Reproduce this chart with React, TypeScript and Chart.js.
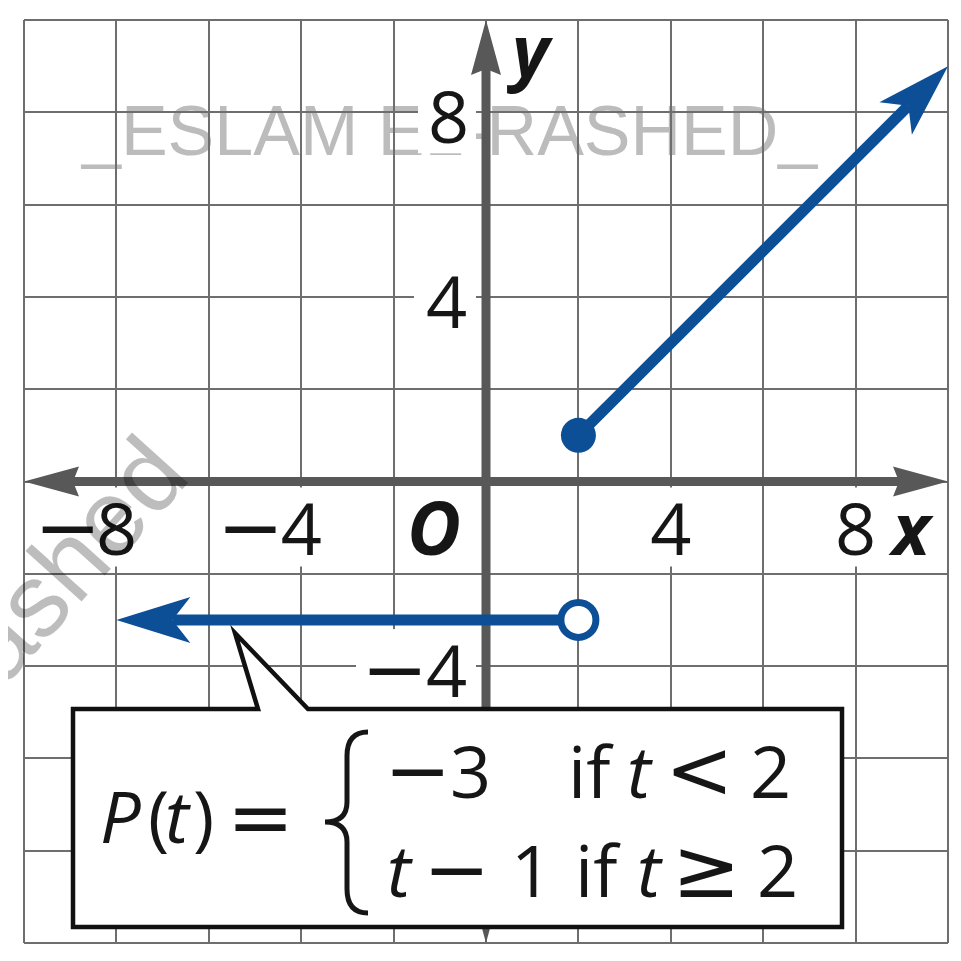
import React, { useEffect, useRef } from 'react';
import { Chart, registerables } from 'chart.js';

Chart.register(...registerables);

// ---------------- data ----------------
const xRange = [-10, 10];
const yRange = [-10, 10];
const gridStep = 2;
const xTickLabels = [-8, -4, 4, 8];
const yTickLabels = [8, 4, -4];
const rayUpT = [2, 10];
const rayUpP = [1, 9];
const rayDownT = [2, -8];
const rayDownP = [-3, -3];
const watermarkTop = '_ESLAM EL-RASHED_';
const watermarkSide = 'rashed';

// ---------------- style ----------------
const BLUE = '#0c4f97';
const AXIS = '#585858';
const GRID = '#6e6e6e';
const INK = '#161616';
const SANS = '"Open Sans", "Noto Sans", sans-serif';
const MATH = '"DejaVu Sans", sans-serif';
const DIGIT_FONT = `72px ${SANS}`;
const ITALIC_FONT = `italic 72px ${SANS}`;
const MINUS_FONT = `80px ${MATH}`;
const REL_FONT = `82px ${MATH}`;
const LETTER_FONT = `bold italic 72px ${SANS}`;

type Pt = { x: number; y: number };

function measure(ctx: CanvasRenderingContext2D, text: string, font: string) {
  ctx.font = font;
  const m = ctx.measureText(text);
  return {
    abl: m.actualBoundingBoxLeft,
    w: m.actualBoundingBoxLeft + m.actualBoundingBoxRight,
    asc: m.actualBoundingBoxAscent,
    desc: m.actualBoundingBoxDescent,
  };
}

// draws text so that its glyph box starts at `left`
function glyph(ctx: CanvasRenderingContext2D, text: string, font: string, left: number, baseline: number, color = INK) {
  const m = measure(ctx, text, font);
  ctx.font = font;
  ctx.fillStyle = color;
  ctx.textAlign = 'left';
  ctx.textBaseline = 'alphabetic';
  ctx.fillText(text, left + m.abl, baseline);
  return { left, right: left + m.w, top: baseline - m.asc, bottom: baseline + m.desc };
}

function arrowPath(ctx: CanvasRenderingContext2D, tip: Pt, ux: number, uy: number, len: number, half: number, notch: number) {
  const nx = -uy;
  const ny = ux;
  ctx.beginPath();
  ctx.moveTo(tip.x, tip.y);
  ctx.lineTo(tip.x - ux * len + nx * half, tip.y - uy * len + ny * half);
  ctx.lineTo(tip.x - ux * notch, tip.y - uy * notch);
  ctx.lineTo(tip.x - ux * len - nx * half, tip.y - uy * len - ny * half);
  ctx.closePath();
}

const RAY_ARROW = { len: 74, half: 23, notch: 56 };
const AXIS_ARROW = { len: 55, half: 15, notch: 49 };

function rayDirection(meta: any) {
  const pts = meta.data;
  const tip = pts[pts.length - 1];
  const prev = pts[pts.length - 2];
  let ux = tip.x - prev.x;
  let uy = tip.y - prev.y;
  const l = Math.hypot(ux, uy) || 1;
  ux /= l;
  uy /= l;
  return { tip: { x: tip.x, y: tip.y }, ux, uy };
}

const graphPlugin = {
  id: 'graphPaper',
  beforeDraw(chart: any) {
    const { ctx, chartArea: ca } = chart;
    ctx.save();
    ctx.font = `70px "Liberation Sans", Arial, sans-serif`;
    ctx.fillStyle = '#bcbcbc';
    ctx.textAlign = 'left';
    ctx.textBaseline = 'alphabetic';
    ctx.fillText(watermarkTop, ca.left + 58, ca.top + 135);
    ctx.restore();
  },
  beforeDatasetsDraw(chart: any) {
    const { ctx } = chart;
    const xs = chart.scales.x;
    const ys = chart.scales.y;
    const x0 = xs.getPixelForValue(0);
    const y0 = ys.getPixelForValue(0);
    ctx.save();

    // ---- tick label layout ----
    type Item = { minus: boolean; mLeft: number; dLeft: number; base: number; text: string; bx: number; by: number; bw: number; bh: number };
    const items: Item[] = [];
    for (const v of xTickLabels) {
      const px = xs.getPixelForValue(v);
      const text = String(Math.abs(v));
      const d = measure(ctx, text, DIGIT_FONT);
      const dLeft = px - d.w / 2;
      let left = dLeft;
      let mLeft = 0;
      if (v < 0) {
        const m = measure(ctx, '\u2212', MINUS_FONT);
        mLeft = dLeft - 6 - m.w;
        left = mLeft;
      }
      const base = y0 + 73;
      items.push({ minus: v < 0, mLeft, dLeft, base, text, bx: left - 8, by: y0 + 6, bw: dLeft + d.w + 8 - (left - 8), bh: 79 });
    }
    for (const v of yTickLabels) {
      const py = ys.getPixelForValue(v);
      const text = String(Math.abs(v));
      const d = measure(ctx, text, DIGIT_FONT);
      const dLeft = x0 - 20 - d.w;
      let left = dLeft;
      let mLeft = 0;
      if (v < 0) {
        const m = measure(ctx, '\u2212', MINUS_FONT);
        mLeft = dLeft - 7 - m.w;
        left = mLeft;
      }
      const base = py + 31;
      const top = base - d.asc;
      items.push({ minus: v < 0, mLeft, dLeft, base, text, bx: left - 13, by: top - 16, bw: x0 - 10 - (left - 13), bh: d.asc + 26 });
    }

    // backdrops cut the grid lines
    ctx.fillStyle = '#ffffff';
    for (const it of items) ctx.fillRect(it.bx, it.by, it.bw, it.bh);

    // ---- axes ----
    const left = xs.getPixelForValue(xRange[0]);
    const right = xs.getPixelForValue(xRange[1]);
    const top = ys.getPixelForValue(yRange[1]);
    const bottom = ys.getPixelForValue(yRange[0]);
    ctx.strokeStyle = AXIS;
    ctx.fillStyle = AXIS;
    ctx.lineWidth = 9;
    ctx.lineCap = 'butt';
    ctx.beginPath();
    ctx.moveTo(left + AXIS_ARROW.notch, y0);
    ctx.lineTo(right - AXIS_ARROW.notch, y0);
    ctx.moveTo(x0, top + AXIS_ARROW.notch);
    ctx.lineTo(x0, bottom - AXIS_ARROW.notch);
    ctx.stroke();
    const heads: [Pt, number, number][] = [
      [{ x: left, y: y0 }, -1, 0],
      [{ x: right, y: y0 }, 1, 0],
      [{ x: x0, y: top }, 0, -1],
      [{ x: x0, y: bottom }, 0, 1],
    ];
    for (const [p, ux, uy] of heads) {
      arrowPath(ctx, p, ux, uy, AXIS_ARROW.len, AXIS_ARROW.half, AXIS_ARROW.notch);
      ctx.fill();
    }

    // ---- tick labels ----
    for (const it of items) {
      if (it.minus) glyph(ctx, '\u2212', MINUS_FONT, it.mLeft, it.base);
      glyph(ctx, it.text, DIGIT_FONT, it.dLeft, it.base);
    }
    // origin and axis names
    glyph(ctx, 'O', `bold italic 74px ${SANS}`, x0 - 75, y0 + 73);
    glyph(ctx, 'x', LETTER_FONT, right - 60, y0 + 73);
    glyph(ctx, 'y', LETTER_FONT, x0 + 21, top + 57);
    ctx.restore();
  },
  beforeDatasetDraw(chart: any, args: any) {
    const ds = chart.data.datasets[args.index];
    if (!ds.arrow) return;
    const { ctx } = chart;
    const { tip, ux, uy } = rayDirection(args.meta);
    const cx = tip.x - ux * RAY_ARROW.notch;
    const cy = tip.y - uy * RAY_ARROW.notch;
    const nx = -uy;
    const ny = ux;
    const B = 4000;
    ctx.save();
    ctx.beginPath();
    ctx.moveTo(cx + nx * B, cy + ny * B);
    ctx.lineTo(cx + nx * B - ux * B, cy + ny * B - uy * B);
    ctx.lineTo(cx - nx * B - ux * B, cy - ny * B - uy * B);
    ctx.lineTo(cx - nx * B, cy - ny * B);
    ctx.closePath();
    ctx.clip();
  },
  afterDatasetDraw(chart: any, args: any) {
    const ds = chart.data.datasets[args.index];
    if (!ds.arrow) return;
    const { ctx } = chart;
    ctx.restore();
    const { tip, ux, uy } = rayDirection(args.meta);
    ctx.save();
    ctx.fillStyle = ds.borderColor;
    arrowPath(ctx, tip, ux, uy, RAY_ARROW.len, RAY_ARROW.half, RAY_ARROW.notch);
    ctx.fill();
    ctx.restore();
  },
  afterDraw(chart: any) {
    const { ctx, chartArea: ca } = chart;
    ctx.save();
    // ---- callout box ----
    const bx = ca.left + 49;
    const by = ca.top + 689;
    const br = ca.left + 818;
    const bb = ca.top + 907;
    ctx.beginPath();
    ctx.moveTo(bx, by);
    ctx.lineTo(ca.left + 234, by);
    ctx.lineTo(ca.left + 211, ca.top + 613);
    ctx.lineTo(ca.left + 284, by);
    ctx.lineTo(br, by);
    ctx.lineTo(br, bb);
    ctx.lineTo(bx, bb);
    ctx.closePath();
    ctx.fillStyle = '#ffffff';
    ctx.fill();
    ctx.lineWidth = 4.5;
    ctx.lineJoin = 'miter';
    ctx.strokeStyle = '#111111';
    ctx.stroke();

    // ---- formula ----
    const r0 = by + 134;
    glyph(ctx, 'P', ITALIC_FONT, bx + 30, r0);
    glyph(ctx, '(', DIGIT_FONT, bx + 77, r0);
    glyph(ctx, 't', ITALIC_FONT, bx + 95, r0);
    glyph(ctx, ')', DIGIT_FONT, bx + 122, r0);
    glyph(ctx, '=', MINUS_FONT, bx + 162, r0 + 2);

    // brace
    const L = bx + 252;
    const S = bx + 274;
    const R = bx + 295;
    const T = by + 23;
    const M = by + 113;
    const B = by + 204;
    ctx.beginPath();
    ctx.moveTo(R, T);
    ctx.quadraticCurveTo(S, T, S, T + 24);
    ctx.lineTo(S, M - 20);
    ctx.quadraticCurveTo(S, M, L, M);
    ctx.quadraticCurveTo(S, M, S, M + 20);
    ctx.lineTo(S, B - 24);
    ctx.quadraticCurveTo(S, B, R, B);
    ctx.lineWidth = 5;
    ctx.strokeStyle = INK;
    ctx.stroke();

    const r1 = by + 89;
    glyph(ctx, '\u2212', MINUS_FONT, bx + 319, r1);
    glyph(ctx, '3', DIGIT_FONT, bx + 380, r1);
    glyph(ctx, 'if', DIGIT_FONT, bx + 500, r1);
    glyph(ctx, 't', ITALIC_FONT, bx + 557, r1);
    glyph(ctx, '<', REL_FONT, bx + 600, r1);
    glyph(ctx, '2', DIGIT_FONT, bx + 680, r1);

    const r2 = by + 188;
    glyph(ctx, 't', ITALIC_FONT, bx + 317, r2);
    glyph(ctx, '\u2212', MINUS_FONT, bx + 358, r2);
    glyph(ctx, '1', DIGIT_FONT, bx + 444, r2);
    glyph(ctx, 'if', DIGIT_FONT, bx + 507, r2);
    glyph(ctx, 't', ITALIC_FONT, bx + 567, r2);
    glyph(ctx, '\u2265', REL_FONT, bx + 607, r2);
    glyph(ctx, '2', DIGIT_FONT, bx + 687, r2);

    // ---- side watermark ----
    ctx.save();
    ctx.globalAlpha = 0.26;
    ctx.translate(ca.left - 44, ca.top + 694);
    ctx.rotate((-48 * Math.PI) / 180);
    ctx.font = `104px "Liberation Sans", Arial, sans-serif`;
    ctx.fillStyle = '#000000';
    ctx.textAlign = 'left';
    ctx.textBaseline = 'alphabetic';
    ctx.fillText(watermarkSide, 0, 0);
    ctx.restore();
    ctx.restore();
  },
};

export default function App() {
  const ref = useRef<HTMLCanvasElement>(null);
  useEffect(() => {
    const canvas = ref.current;
    if (!canvas) return;
    const chart = new Chart(canvas, {
      type: 'scatter',
      data: {
        datasets: [
          {
            label: 'P(t) = t − 1, t ≥ 2',
            data: rayUpT.map((t, i) => ({ x: t, y: rayUpP[i] })),
            showLine: true,
            borderColor: BLUE,
            borderWidth: 11,
            borderCapStyle: 'butt',
            pointRadius: [17.5, 0],
            pointHoverRadius: [17.5, 0],
            pointBackgroundColor: BLUE,
            pointBorderColor: BLUE,
            pointBorderWidth: 0,
            arrow: true,
          } as any,
          {
            label: 'P(t) = −3, t < 2',
            data: rayDownT.map((t, i) => ({ x: t, y: rayDownP[i] })),
            showLine: true,
            borderColor: BLUE,
            borderWidth: 11,
            borderCapStyle: 'butt',
            pointRadius: [17.5, 0],
            pointHoverRadius: [17.5, 0],
            pointBackgroundColor: '#ffffff',
            pointBorderColor: BLUE,
            pointBorderWidth: 7,
            arrow: true,
          } as any,
        ],
      },
      options: {
        animation: false,
        responsive: true,
        maintainAspectRatio: false,
        events: [],
        layout: { autoPadding: false, padding: { left: 16, right: 5, top: 12, bottom: 10 } },
        plugins: { legend: { display: false }, tooltip: { enabled: false } },
        scales: {
          x: {
            type: 'linear',
            min: xRange[0],
            max: xRange[1],
            ticks: { stepSize: gridStep, display: false },
            grid: { color: GRID, lineWidth: 2, drawTicks: false },
            border: { display: false },
            afterFit: (s: any) => {
              s.height = 0;
            },
          },
          y: {
            type: 'linear',
            min: yRange[0],
            max: yRange[1],
            ticks: { stepSize: gridStep, display: false },
            grid: { color: GRID, lineWidth: 2, drawTicks: false },
            border: { display: false },
            afterFit: (s: any) => {
              s.width = 0;
            },
          },
        },
      },
      plugins: [graphPlugin],
    });
    return () => chart.destroy();
  }, []);
  return (
    <div style={{ width: 945, height: 945, position: 'relative' }}>
      <canvas ref={ref} />
    </div>
  );
}
